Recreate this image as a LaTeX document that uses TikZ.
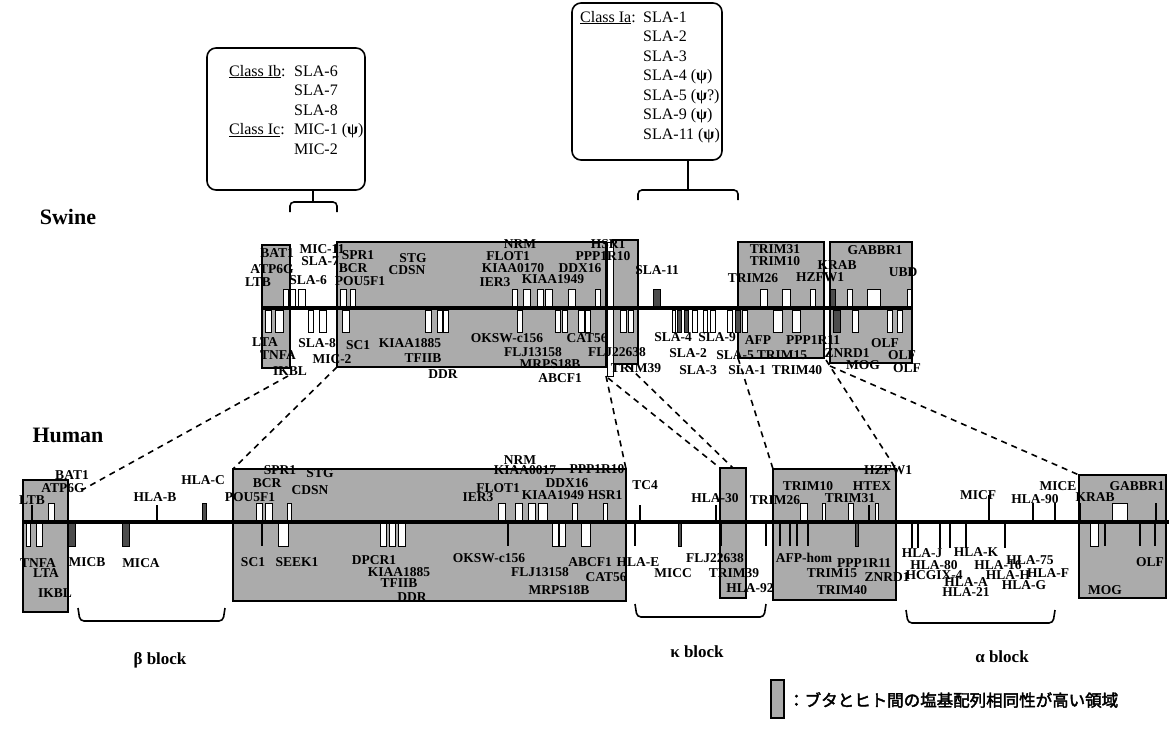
\documentclass[tikz,border=0pt]{standalone}
\usepackage{fontspec}
\setmainfont{Liberation Serif}
\newfontfamily\jpf[FakeBold=2.5]{Noto Sans CJK JP}
\newcount\gcnt
\newcommand\gn[3]{\global\advance\gcnt by 1\relax\node[gene] (g\the\gcnt) at (#1,#2) {#3};}
\newcommand\msu[3][white]{\filldraw[mk,fill=#1] (#2,289) rectangle (#3,306);}
\newcommand\msd[3][white]{\filldraw[mk,fill=#1] (#2,310) rectangle (#3,332);}
\newcommand\mhu[3][white]{\filldraw[mk,fill=#1] (#2,503) rectangle (#3,521);}
\newcommand\mhd[3][white]{\filldraw[mk,fill=#1] (#2,523) rectangle (#3,546);}
\newcommand\tck[3]{\draw[line width=1.6pt] (#1,#2) -- (#1,#3);}
\tikzset{
  gene/.style={font=\fontsize{13.5}{14}\selectfont\bfseries, inner sep=0pt},
  hbox/.style={draw=black, line width=1.2pt, fill=black!33},
  mk/.style={draw=black, line width=0.9pt},
  chrom/.style={line width=4.5pt},
  link/.style={line width=1.6pt, dash pattern=on 6pt off 5pt},
  classbox/.style={draw, line width=1.6pt, rounded corners=9pt, inner sep=0pt},
  brace/.style={line width=1.6pt, rounded corners=4pt},
  ctext/.style={font=\fontsize{16}{17}\selectfont, anchor=base west, inner sep=0pt},
  species/.style={font=\fontsize{22}{22}\selectfont\bfseries, inner sep=0pt},
  blk/.style={font=\fontsize{17}{17}\selectfont\bfseries, inner sep=0pt},
}
\begin{document}
\begin{tikzpicture}[x=1pt,y=-1pt]
\useasboundingbox (0,0) rectangle (1169,731);
% ---------- class boxes ----------
\node[classbox, minimum width=158pt, minimum height=142pt] (cb) at (286,119) {};
\node[classbox, minimum width=150pt, minimum height=157pt] (ca) at (647,81.5) {};
\node[ctext] (cb1) at (229,76) {\underline{Class Ib}:};
\node[ctext] (cb2) at (294,76) {SLA-6};
\node[ctext] (cb3) at (294,95.5) {SLA-7};
\node[ctext] (cb4) at (294,115) {SLA-8};
\node[ctext] (cb5) at (229,134.5) {\underline{Class Ic}:};
\node[ctext] (cb6) at (294,134.5) {MIC-1 ({\bfseries ψ})};
\node[ctext] (cb7) at (294,154) {MIC-2};
\node[ctext] (ca1) at (580,22) {\underline{Class Ia}:};
\node[ctext] (ca2) at (643,22) {SLA-1};
\node[ctext] (ca3) at (643,41.5) {SLA-2};
\node[ctext] (ca4) at (643,61) {SLA-3};
\node[ctext] (ca5) at (643,80.5) {SLA-4 ({\bfseries ψ})};
\node[ctext] (ca6) at (643,100) {SLA-5 ({\bfseries ψ}?)};
\node[ctext] (ca7) at (643,119.5) {SLA-9 ({\bfseries ψ})};
\node[ctext] (ca8) at (643,139) {SLA-11 ({\bfseries ψ})};
% brackets under class boxes
\draw[brace] (290,212) -- (290,202) -- (337,202) -- (337,212);
\draw[brace] (cb.south -| 313,0) -- (313,202);
\draw[brace] (638,200) -- (638,190) -- (738,190) -- (738,200);
\draw[brace] (ca.south -| 688,0) -- (688,190);
% ---------- species labels ----------
\node[species] (sw) at (68,217) {Swine};
\node[species] (hu) at (68,435) {Human};
% ---------- swine shaded regions ----------
\filldraw[hbox] (262,245) rectangle (290,368);
\filldraw[hbox] (337,242) rectangle (606,367);
\filldraw[hbox] (613,240) rectangle (638,364);
\filldraw[hbox] (738,242) rectangle (824,358);
\filldraw[hbox] (830,242) rectangle (912,363);
\filldraw[mk,fill=white] (607,242) rectangle (613,376);
% swine markers
\msu{283}{288}\msu{290}{295}\msu{298}{305}\msu{340}{346}\msu{350}{355}
\msu{512}{517}\msu{523}{530}\msu{537}{543}\msu{545}{552}\msu{568}{575}\msu{595}{600}
\msu[black!70]{653}{660}
\msu{760}{767}\msu{782}{790}\msu{810}{815}\msu[black!70]{830}{835}\msu{847}{852}\msu{867}{880}\msu{907}{911}
\msd{265}{271}\msd{275}{283}\msd{308}{313}\msd{319}{326}\msd{342}{349}
\msd{425}{431}\msd{437}{442}\msd{443}{448}\msd{517}{522}\msd{555}{560}\msd{562}{567}
\msd{578}{584}\msd{585}{590}\msd{620}{626}\msd{628}{633}
\msd{672}{675}\msd[black!70]{677}{681}\msd[black!70]{684}{688}\msd{692}{697}\msd{703}{707}\msd{710}{715}
\msd{727}{732}\msd[black!70]{735}{740}\msd{742}{747}\msd{773}{782}\msd{792}{800}
\msd[black!70]{833}{840}\msd{852}{858}\msd{887}{892}\msd{897}{902}
\draw[chrom] (262,308) -- (912,308);
% swine labels above
\gn{277}{253}{BAT1}\gn{322}{249}{MIC-11}\gn{320}{261}{SLA-7}\gn{272}{269}{ATP6G}
\gn{258}{282}{LTB}\gn{308}{280}{SLA-6}\gn{358}{255}{SPR1}\gn{413}{258}{STG}
\gn{353}{268}{BCR}\gn{407}{270}{CDSN}\gn{360}{281}{POU5F1}
\gn{520}{244}{NRM}\gn{508}{256}{FLOT1}\gn{513}{268}{KIAA0170}\gn{495}{282}{IER3}
\gn{553}{279}{KIAA1949}\gn{603}{256}{PPP1R10}\gn{580}{268}{DDX16}\gn{608}{244}{HSR1}
\gn{657}{270}{SLA-11}
\gn{775}{249}{TRIM31}\gn{775}{261}{TRIM10}\gn{753}{278}{TRIM26}\gn{875}{250}{GABBR1}
\gn{837}{265}{KRAB}\gn{820}{277}{HZFW1}\gn{903}{272}{UBD}
% swine labels below
\gn{265}{342}{LTA}\gn{278}{355}{TNFA}\gn{290}{371}{IKBL}\gn{317}{343}{SLA-8}
\gn{332}{359}{MIC-2}\gn{358}{345}{SC1}\gn{410}{343}{KIAA1885}\gn{423}{358}{TFIIB}
\gn{443}{374}{DDR}\gn{507}{338}{OKSW-c156}\gn{533}{352}{FLJ13158}\gn{550}{364}{MRPS18B}
\gn{560}{378}{ABCF1}\gn{587}{338}{CAT56}\gn{617}{352}{FLJ22638}\gn{636}{368}{TRIM39}
\gn{673}{337}{SLA-4}\gn{717}{337}{SLA-9}\gn{758}{340}{AFP}\gn{813}{340}{PPP1R11}
\gn{688}{353}{SLA-2}\gn{735}{355}{SLA-5}\gn{782}{355}{TRIM15}\gn{847}{353}{ZNRD1}
\gn{698}{370}{SLA-3}\gn{747}{370}{SLA-1}\gn{797}{370}{TRIM40}\gn{863}{365}{MOG}
\gn{885}{343}{OLF}\gn{902}{355}{OLF}\gn{907}{368}{OLF}
% ---------- human shaded regions ----------
\filldraw[hbox] (23,480) rectangle (68,612);
\filldraw[hbox] (233,469) rectangle (626,601);
\filldraw[hbox] (720,468) rectangle (746,598);
\filldraw[hbox] (773,469) rectangle (896,600);
\filldraw[hbox] (1079,475) rectangle (1166,598);
% human markers
\tck{32}{505}{521}\mhu{48}{54}\tck{157}{505}{521}\mhu[black!70]{202}{206}
\mhu{256}{262}\mhu{265}{272}\mhu{287}{291}\mhu{498}{505}\mhu{515}{522}\mhu{528}{535}\mhu{538}{547}
\mhu{572}{577}\mhu{603}{607}\tck{640}{505}{521}\tck{716}{505}{521}
\mhu{800}{807}\mhu{822}{825}\mhu{848}{853}\tck{869}{505}{521}\mhu{875}{878}
\tck{989}{495}{521}\tck{1033}{503}{521}\tck{1055}{503}{521}\tck{1080}{503}{521}
\mhu{1112}{1127}\tck{1156}{503}{521}
\mhd{26}{30}\mhd{36}{42}\mhd[black!70]{68}{75}\mhd[black!70]{122}{129}
\tck{262}{523}{546}\mhd{278}{288}\mhd{380}{386}\mhd{389}{395}\mhd{398}{405}
\tck{508}{523}{546}\mhd{552}{558}\mhd{559}{565}\mhd{581}{590}\tck{635}{523}{546}
\mhd[black!70]{678}{681}\tck{721}{523}{546}\tck{766}{523}{546}
\tck{780}{523}{546}\tck{790}{523}{546}\tck{797}{523}{546}\tck{808}{523}{546}\mhd[black!70]{855}{858}
\tck{912}{523}{548}\tck{918}{523}{548}\tck{940}{523}{548}\tck{950}{523}{548}\tck{966}{523}{548}\tck{1005}{523}{548}
\mhd{1090}{1098}\tck{1105}{523}{546}\tck{1140}{523}{546}\tck{1155}{523}{546}
\draw[chrom] (22,522) -- (1169,522);
% human labels above
\gn{72}{475}{BAT1}\gn{63}{488}{ATP6G}\gn{32}{500}{LTB}\gn{155}{497}{HLA-B}\gn{203}{480}{HLA-C}
\gn{280}{470}{SPR1}\gn{320}{473}{STG}\gn{267}{483}{BCR}\gn{310}{490}{CDSN}\gn{250}{497}{POU5F1}
\gn{520}{460}{NRM}\gn{525}{470}{KIAA0017}\gn{597}{469}{PPP1R10}\gn{567}{483}{DDX16}
\gn{498}{488}{FLOT1}\gn{478}{497}{IER3}\gn{553}{495}{KIAA1949}\gn{605}{495}{HSR1}\gn{645}{485}{TC4}
\gn{715}{498}{HLA-30}\gn{775}{500}{TRIM26}\gn{808}{486}{TRIM10}\gn{850}{498}{TRIM31}
\gn{872}{486}{HTEX}\gn{888}{470}{HZFW1}
\gn{978}{495}{MICF}\gn{1035}{499}{HLA-90}\gn{1058}{486}{MICE}\gn{1095}{497}{KRAB}\gn{1137}{486}{GABBR1}
% human labels below
\gn{38}{563}{TNFA}\gn{46}{573}{LTA}\gn{55}{593}{IKBL}\gn{87}{562}{MICB}\gn{141}{563}{MICA}
\gn{253}{562}{SC1}\gn{297}{562}{SEEK1}\gn{374}{560}{DPCR1}\gn{399}{572}{KIAA1885}
\gn{399}{583}{TFIIB}\gn{412}{597}{DDR}\gn{489}{558}{OKSW-c156}\gn{540}{572}{FLJ13158}
\gn{559}{590}{MRPS18B}\gn{590}{562}{ABCF1}\gn{606}{577}{CAT56}
\gn{638}{562}{HLA-E}\gn{673}{573}{MICC}\gn{715}{558}{FLJ22638}\gn{734}{573}{TRIM39}\gn{750}{588}{HLA-92}
\gn{804}{558}{AFP-hom}\gn{864}{563}{PPP1R11}\gn{832}{573}{TRIM15}\gn{887}{577}{ZNRD1}\gn{842}{590}{TRIM40}
\gn{922}{553}{HLA-J}\gn{976}{552}{HLA-K}\gn{934}{565}{HLA-80}\gn{998}{565}{HLA-16}
\gn{934}{575}{HCGIX-4}\gn{1008}{575}{HLA-H}\gn{966}{582}{HLA-A}\gn{1024}{585}{HLA-G}
\gn{966}{592}{HLA-21}\gn{1030}{560}{HLA-75}\gn{1048}{573}{HLA-F}\gn{1150}{562}{OLF}\gn{1105}{590}{MOG}
% ---------- homology links ----------
\coordinate (s1) at (288,376); \coordinate (h1) at (82,490);
\coordinate (s2) at (337,367); \coordinate (h2) at (233,469);
\coordinate (s3) at (606,376); \coordinate (h3) at (626,469);
\coordinate (s4) at (608,378); \coordinate (h4) at (720,468);
\coordinate (s5) at (628,366); \coordinate (h5) at (733,468);
\coordinate (s6) at (738,358); \coordinate (h6) at (773,469);
\coordinate (s7) at (826,360); \coordinate (h7) at (896,469);
\coordinate (s8) at (830,366); \coordinate (h8) at (1079,475);
\foreach \i in {1,...,8} {\draw[link] (s\i) -- (h\i);}
% ---------- block braces ----------
\draw[brace] (78,608) -- (80,621) -- (223,621) -- (225,608);
\draw[brace] (635,604) -- (637,617) -- (764,617) -- (766,604);
\draw[brace] (906,610) -- (908,623) -- (1053,623) -- (1055,610);
\node[blk] (bb) at (160,660) {β block};
\node[blk] (kb) at (697,652) {κ block};
\node[blk] (ab) at (1002,657) {α block};
% ---------- legend ----------
\node[hbox, minimum width=13pt, minimum height=38pt, inner sep=0pt] (lg) at (777.5,699) {};
\node[anchor=west, inner sep=0pt, font=\jpf\fontsize{16.5}{17}\selectfont] (lgt) at (788,700) {：ブタとヒト間の塩基配列相同性が高い領域};
\end{tikzpicture}
\end{document}
